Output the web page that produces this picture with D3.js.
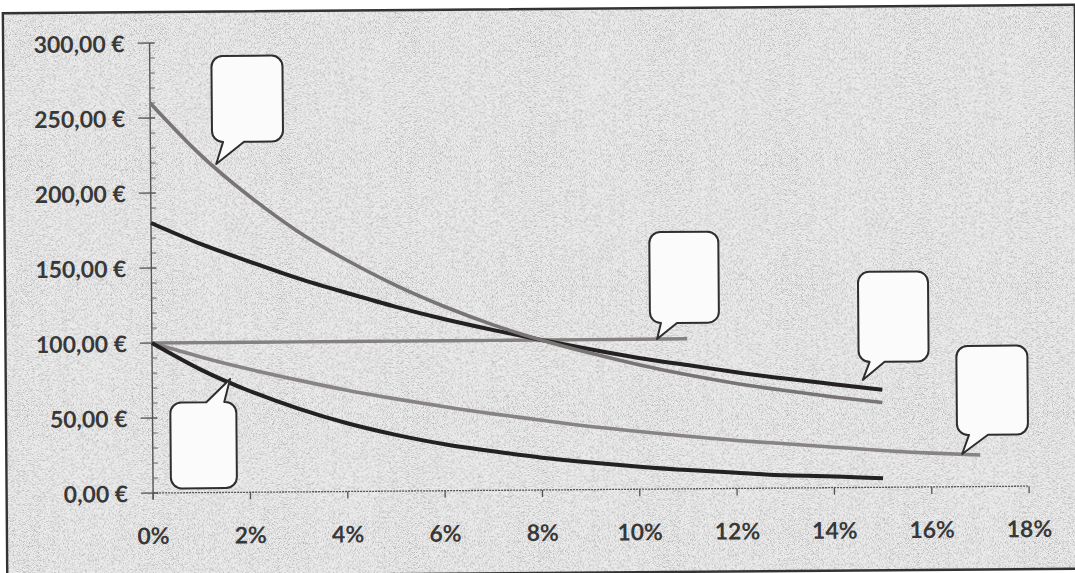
<!DOCTYPE html>
<html>
<head>
<meta charset="utf-8">
<script src="https://cdn.jsdelivr.net/npm/d3@7"></script>
<style>
  html, body { margin: 0; padding: 0; background: #ffffff; }
  svg { display: block; }
  text { font-family: Lato, "Open Sans", "DejaVu Sans", sans-serif; }
</style>
</head>
<body>
<svg id="chart" width="1075" height="573"></svg>
<script>
// ---------- data ----------
const xTicks = [0, 2, 4, 6, 8, 10, 12, 14, 16, 18];
const xTickLabels = ["0%", "2%", "4%", "6%", "8%", "10%", "12%", "14%", "16%", "18%"];
const yTicks = [0, 50, 100, 150, 200, 250, 300];
const yTickLabels = ["0,00\u00a0€", "50,00\u00a0€", "100,00\u00a0€", "150,00\u00a0€", "200,00\u00a0€", "250,00\u00a0€", "300,00\u00a0€"];

// upper grey curve (starts at 260 €)
const ratesA  = [0, 1, 2, 3, 4, 5, 6, 7, 8, 9, 10, 11, 12, 13, 14, 15];
const valuesA = [260, 226, 198, 174, 154.5, 137.5, 123, 110.5, 100, 91, 83, 76, 70, 65, 60.5, 56.5];
// upper dark curve (starts at 180 €)
const ratesB  = [0, 1, 2, 3, 4, 5, 6, 7, 8, 9, 10, 11, 12, 13, 14, 15];
const valuesB = [180, 166, 154, 142.5, 132.5, 123, 114.5, 107, 100, 93.5, 87.5, 82.5, 77.5, 73, 69, 65];
// flat grey line at 100 €
const ratesC  = [0, 1, 2, 3, 4, 5, 6, 7, 8, 9, 10, 11];
const valuesC = [100, 100, 100, 100, 100, 100, 100, 100, 100, 100, 100, 100];
// lower grey curve (to 17 %)
const ratesD  = [0, 1, 2, 3, 4, 5, 6, 7, 8, 9, 10, 11, 12, 13, 14, 15, 16, 17];
const valuesD = [100, 90.5, 82, 74.5, 67.5, 61.5, 56, 51, 46.5, 42, 38.5, 35, 32, 29.5, 27, 24.5, 22.5, 21];
// lower dark curve
const ratesE  = [0, 1, 2, 3, 4, 5, 6, 7, 8, 9, 10, 11, 12, 13, 14, 15];
const valuesE = [100, 82, 67.5, 55.5, 45.5, 37.5, 31, 26, 21.5, 18, 15, 12.5, 10.5, 8.5, 7.5, 6];

// empty speech-bubble callouts: anchor (rate, value)
const calloutRates  = [1.35, 1.6, 10.38, 14.6, 16.63];
const calloutValues = [219, 75.6, 100, 71.7, 21.8];

// ---------- layout ----------
const plot = { left: 151.5, right: 1027.5, top: 40, bottom: 490 };
const svg = d3.select("#chart");

const defs = svg.append("defs");
const filt = defs.append("filter").attr("id", "speckle")
  .attr("x", 0).attr("y", 0).attr("width", "100%").attr("height", "100%");
filt.append("feTurbulence").attr("type", "fractalNoise")
  .attr("baseFrequency", 1.2).attr("numOctaves", 1).attr("seed", 7).attr("result", "n");
filt.append("feColorMatrix").attr("in", "n").attr("type", "matrix")
  .attr("values", "0 0 0 0 0.25  0 0 0 0 0.25  0 0 0 0 0.25  3.2 0 0 0 -1.45");

const root = svg.append("g").attr("transform", "rotate(-0.45 537 286)");

// chart area background + frame
const frame = { x: 5, y: 9, w: 1072, h: 564 };
root.append("rect").attr("x", frame.x).attr("y", frame.y).attr("width", frame.w).attr("height", frame.h)
  .attr("fill", "#ebebeb");
root.append("rect").attr("x", frame.x).attr("y", frame.y).attr("width", frame.w).attr("height", frame.h)
  .attr("fill", "#000").attr("filter", "url(#speckle)").attr("opacity", 0.62);
root.append("rect").attr("x", frame.x).attr("y", frame.y).attr("width", frame.w).attr("height", frame.h)
  .attr("fill", "none").attr("stroke", "#333").attr("stroke-width", 2.4);

const x = d3.scaleLinear().domain([0, 18]).range([plot.left, plot.right]);
const y = d3.scaleLinear().domain([0, 300]).range([plot.bottom, plot.top]);

// ---------- axes ----------
const axisColor = "#555";
root.append("line").attr("x1", x(0)).attr("x2", x(0))
  .attr("y1", y(300)).attr("y2", y(0) + 6)
  .attr("stroke", axisColor).attr("stroke-width", 1.4);
const yMinor = d3.range(0, 301, 10).filter(v => v % 50 !== 0);
root.append("g").selectAll("line").data(yMinor).join("line")
  .attr("x1", x(0)).attr("x2", x(0) + 5)
  .attr("y1", d => y(d)).attr("y2", d => y(d))
  .attr("stroke", "#666").attr("stroke-width", 1);
root.append("g").selectAll("line").data(yTicks).join("line")
  .attr("x1", x(0) - 12).attr("x2", x(0) + 5)
  .attr("y1", d => y(d)).attr("y2", d => y(d))
  .attr("stroke", axisColor).attr("stroke-width", 1.4);
root.append("g").selectAll("text").data(yTicks).join("text")
  .attr("x", x(0) - 25).attr("y", d => y(d))
  .attr("text-anchor", "end").attr("dominant-baseline", "central")
  .attr("font-size", 23).attr("font-weight", 700).attr("fill", "#383838")
  .text((d, i) => yTickLabels[i]);

root.append("line").attr("x1", x(0)).attr("x2", x(18))
  .attr("y1", y(0)).attr("y2", y(0))
  .attr("stroke", "#555").attr("stroke-width", 1.3).attr("stroke-dasharray", "2,1");
root.append("g").selectAll("line").data(xTicks).join("line")
  .attr("x1", d => x(d)).attr("x2", d => x(d))
  .attr("y1", y(0)).attr("y2", y(0) + 7)
  .attr("stroke", axisColor).attr("stroke-width", 1.3);
root.append("g").selectAll("text").data(xTicks).join("text")
  .attr("x", d => x(d)).attr("y", y(0) + 42)
  .attr("text-anchor", "middle").attr("dominant-baseline", "central")
  .attr("font-size", 23).attr("font-weight", 700).attr("fill", "#383838")
  .text((d, i) => xTickLabels[i]);

// ---------- series ----------
const line = d3.line().x(d => x(d[0])).y(d => y(d[1])).curve(d3.curveNatural);
const series = [
  { r: ratesC, v: valuesC, color: "#858181", w: 3.4 },
  { r: ratesB, v: valuesB, color: "#232121", w: 4 },
  { r: ratesA, v: valuesA, color: "#797575", w: 3.6 },
  { r: ratesD, v: valuesD, color: "#888484", w: 3.6 },
  { r: ratesE, v: valuesE, color: "#232121", w: 4 }
];
root.append("g").selectAll("path").data(series).join("path")
  .attr("d", s => line(s.r.map((r, i) => [r, s.v[i]])))
  .attr("fill", "none")
  .attr("stroke", s => s.color)
  .attr("stroke-width", s => s.w)
  .attr("stroke-linecap", "butt")
  .attr("stroke-linejoin", "round");

// ---------- callouts ----------
const calloutBoxes = [
  { box: [-4, 67, -108, -22], tail: [5, 28], side: "bottom" },
  { box: [-60, 6, 23, 109], tail: [-24, -6], side: "top" },
  { box: [-7, 62, -107, -16], tail: [3, 20], side: "bottom" },
  { box: [-4, 66, -108, -18], tail: [5, 22], side: "bottom" },
  { box: [-5, 66, -108, -19], tail: [7, 26], side: "bottom" }
];
function bubblePath(tx, ty, c) {
  const r = 11;
  const x0 = tx + c.box[0], x1 = tx + c.box[1], y0 = ty + c.box[2], y1 = ty + c.box[3];
  const b0 = Math.max(x0 + r, tx + c.tail[0]), b1 = Math.min(x1 - r, tx + c.tail[1]);
  const p = d3.path();
  p.moveTo(x0 + r, y0);
  if (c.side === "top") { p.lineTo(b0, y0); p.lineTo(tx, ty); p.lineTo(b1, y0); }
  p.lineTo(x1 - r, y0);
  p.arcTo(x1, y0, x1, y0 + r, r);
  p.lineTo(x1, y1 - r);
  p.arcTo(x1, y1, x1 - r, y1, r);
  if (c.side === "bottom") { p.lineTo(b1, y1); p.lineTo(tx, ty); p.lineTo(b0, y1); }
  p.lineTo(x0 + r, y1);
  p.arcTo(x0, y1, x0, y1 - r, r);
  p.lineTo(x0, y0 + r);
  p.arcTo(x0, y0, x0 + r, y0, r);
  p.closePath();
  return p.toString();
}
root.append("g").selectAll("path").data(calloutRates).join("path")
  .attr("d", (d, i) => bubblePath(x(d), y(calloutValues[i]), calloutBoxes[i]))
  .attr("fill", "#fbfbfb")
  .attr("stroke", "#2e2e2e")
  .attr("stroke-width", 2)
  .attr("stroke-linejoin", "round");
</script>
</body>
</html>
